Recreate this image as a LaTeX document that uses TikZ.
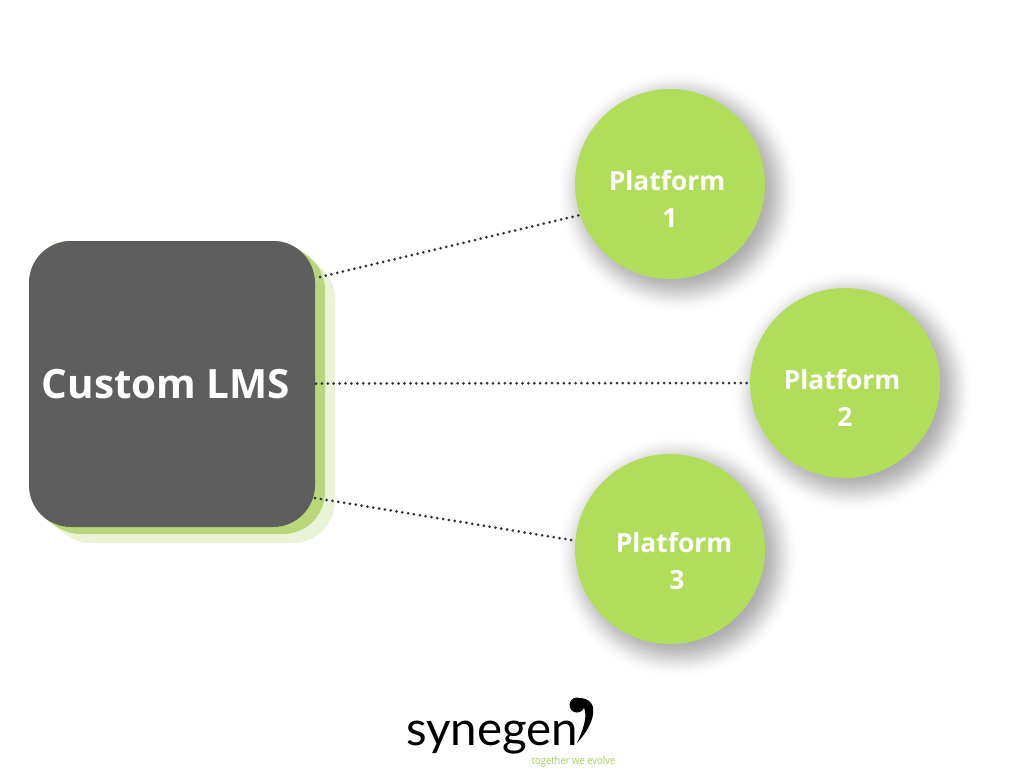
\documentclass[tikz,border=0pt]{standalone}
\usepackage{fontspec}
\setmainfont{Open Sans}
\newfontfamily\logofont{Lato}
\newfontfamily\tagfont[FakeStretch=0.86]{Open Sans}
\definecolor{lmsgrey}{HTML}{5E5E5E}
\definecolor{leaf}{HTML}{B2DD5B}
\definecolor{midgreen}{HTML}{B9D77A}
\definecolor{palegreen}{HTML}{E9F3D8}
\definecolor{taggreen}{HTML}{A9CF5A}
\tikzset{
  x=1pt,y=-1pt,
  lmsbox/.style={fill=lmsgrey,draw=none,rounded corners=42pt,minimum width=286pt,minimum height=286pt,inner sep=0pt},
  platform/.style={circle,fill=leaf,draw=none,minimum size=190pt,inner sep=0pt},
  lmslabel/.style={text=white,font=\bfseries\fontsize{40.4}{48}\selectfont},
  platlabel/.style={text=white,align=center,font=\bfseries\fontsize{26.4}{37}\selectfont},
  dotline/.style={draw=black!80,line width=3pt,line cap=round,dash pattern=on 0pt off 5.9pt}
}
\begin{document}
\begin{tikzpicture}
\useasboundingbox[fill=white] (0,0) rectangle (1024,768);
% extruded layers behind the box
\foreach \i in {0,0.04,...,1.001}{
  \fill[palegreen,rounded corners=42pt] ({29+20*\i},{241+16*\i}) rectangle ({315+20*\i},{527+16*\i});
}
\foreach \i in {0,0.04,...,1.001}{
  \fill[midgreen,rounded corners=42pt] ({29+10*\i},{241+7*\i}) rectangle ({315+10*\i},{527+7*\i});
}
% soft shadows
\foreach \cx/\cy in {678/192,853/391,678/557}{
  \foreach \r in {122,121,...,82}{
    \pgfmathsetmacro{\t}{(122-\r)/40}
    \pgfmathsetmacro{\p}{32*\t*\t*(3-2*\t)}
    \fill[black!\p] (\cx,\cy) circle (\r pt);
  }
}
% main shapes
\node[lmsbox] (lms) at (172,384) {};
\node[platform] (p1) at (670,184) {};
\node[platform] (p2) at (845,383) {};
\node[platform] (p3) at (670,549) {};
% connector ends on the box
\coordinate (l1) at (320,277);
\coordinate (l2) at (316,383.5);
\coordinate (l3) at (315,498);
\draw[dotline] (l1) -- (p1.199);
\draw[dotline] (l2) -- (p2.west);
\draw[dotline] (l3) -- (p3.175);
% labels
\node[lmslabel] (lmstext) at (166,384) {Custom LMS};
\node[platlabel] (t1) at (667,198.5) {Platform\\\hspace*{6pt}1};
\node[platlabel] (t2) at (842,398) {Platform\\\hspace*{6pt}2};
\node[platlabel] (t3) at (674,561) {Platform\\\hspace*{6pt}3};
% logo
\node[anchor=base west,inner sep=0pt,text=black,font=\logofont\fontsize{47.5}{50}\selectfont] (logo) at (406,745) {synegen};
\node[anchor=base east,inner sep=0pt,text=taggreen,font=\tagfont\fontsize{11}{12}\selectfont] (tag) at (615.5,764) {together we evolve};
\fill[black] (577,705) circle (7.5pt);
\fill[black] (570,703) .. controls (576,695) and (590,697) .. (593,707)
  .. controls (595,720) and (586,733) .. (577,743)
  .. controls (583,730) and (588,716) .. (584,708)
  .. controls (581,701) and (575,700) .. (570,703) -- cycle;
\end{tikzpicture}
\end{document}
